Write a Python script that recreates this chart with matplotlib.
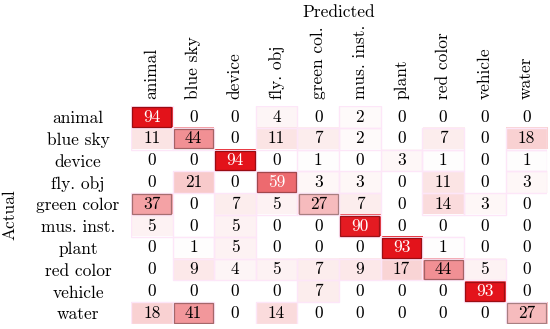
import numpy as np
import matplotlib
matplotlib.use('Agg')
from matplotlib import pyplot as plt
from matplotlib.colors import LinearSegmentedColormap
from matplotlib.patches import Rectangle

plt.rcParams['font.family'] = 'cmr10'
plt.rcParams['axes.formatter.use_mathtext'] = True

labels_y = ['animal', 'blue sky', 'device', 'fly. obj', 'green color',
            'mus. inst.', 'plant', 'red color', 'vehicle', 'water']
labels_x = ['animal', 'blue sky', 'device', 'fly. obj', 'green col.',
            'mus. inst.', 'plant', 'red color', 'vehicle', 'water']

row_animal = [94, 0, 0, 4, 0, 2, 0, 0, 0, 0]
row_bluesky = [11, 44, 0, 11, 7, 2, 0, 7, 0, 18]
row_device = [0, 0, 94, 0, 1, 0, 3, 1, 0, 1]
row_flyobj = [0, 21, 0, 59, 3, 3, 0, 11, 0, 3]
row_green = [37, 0, 7, 5, 27, 7, 0, 14, 3, 0]
row_musinst = [5, 0, 5, 0, 0, 90, 0, 0, 0, 0]
row_plant = [0, 1, 5, 0, 0, 0, 93, 1, 0, 0]
row_red = [0, 9, 4, 5, 7, 9, 17, 44, 5, 0]
row_vehicle = [0, 0, 0, 0, 7, 0, 0, 0, 93, 0]
row_water = [18, 41, 0, 14, 0, 0, 0, 0, 0, 27]

cm = np.array([row_animal, row_bluesky, row_device, row_flyobj, row_green,
               row_musinst, row_plant, row_red, row_vehicle, row_water])

cmap = LinearSegmentedColormap.from_list('wr', ['#ffffff', '#e3121a'])
fs = 12.5

fig = plt.figure(figsize=(5.5, 3.29), dpi=100)
ax = fig.add_axes([0.238, 0.015, 0.757, 0.663])
ax.imshow(cm, cmap=cmap, vmin=0, vmax=94, aspect='auto')

for i in range(cm.shape[0]):     # faint halo + darker border around the cells
    for j in range(cm.shape[1]):
        v = cm[i, j]
        if v == 0:
            continue
        ax.add_patch(Rectangle((j - 0.5, i - 0.5), 1, 1, fill=False,
                               edgecolor='#fde6f8', lw=1.0, zorder=2))
        if v >= 25:
            c = np.array(cmap(v / 94)[:3]) * 0.68
            ax.add_patch(Rectangle((j - 0.47, i - 0.45), 0.94, 0.9, fill=False,
                                   edgecolor=c, lw=0.9, zorder=3))

for i in range(cm.shape[0]):     # numbers in each cell
    for j in range(cm.shape[1]):
        v = cm[i, j]
        ax.text(j, i, str(v), ha='center', va='center', fontsize=fs,
                color='white' if v > 50 else 'black', zorder=4)

ax.set_xlim(-0.5, 9.5)
ax.set_ylim(9.5, -0.5)
ax.set_xticks(range(len(labels_x)))
ax.set_xticklabels(labels_x, rotation=90, fontsize=fs)
ax.set_yticks(range(len(labels_y)))
ax.set_yticklabels(labels_y, fontsize=fs, ha='center')
ax.xaxis.tick_top()
ax.xaxis.set_label_position('top')
ax.set_xlabel('Predicted', fontsize=fs)
ax.set_ylabel('Actual', fontsize=fs)
ax.xaxis.set_label_coords(0.5, 1.41)
ax.yaxis.set_label_coords(-0.272, 0.5)
ax.tick_params(axis='x', length=0, pad=5)
ax.tick_params(axis='y', length=0, pad=38)
for s in ax.spines.values():
    s.set_visible(False)

fig.savefig('out.png', dpi=100)
